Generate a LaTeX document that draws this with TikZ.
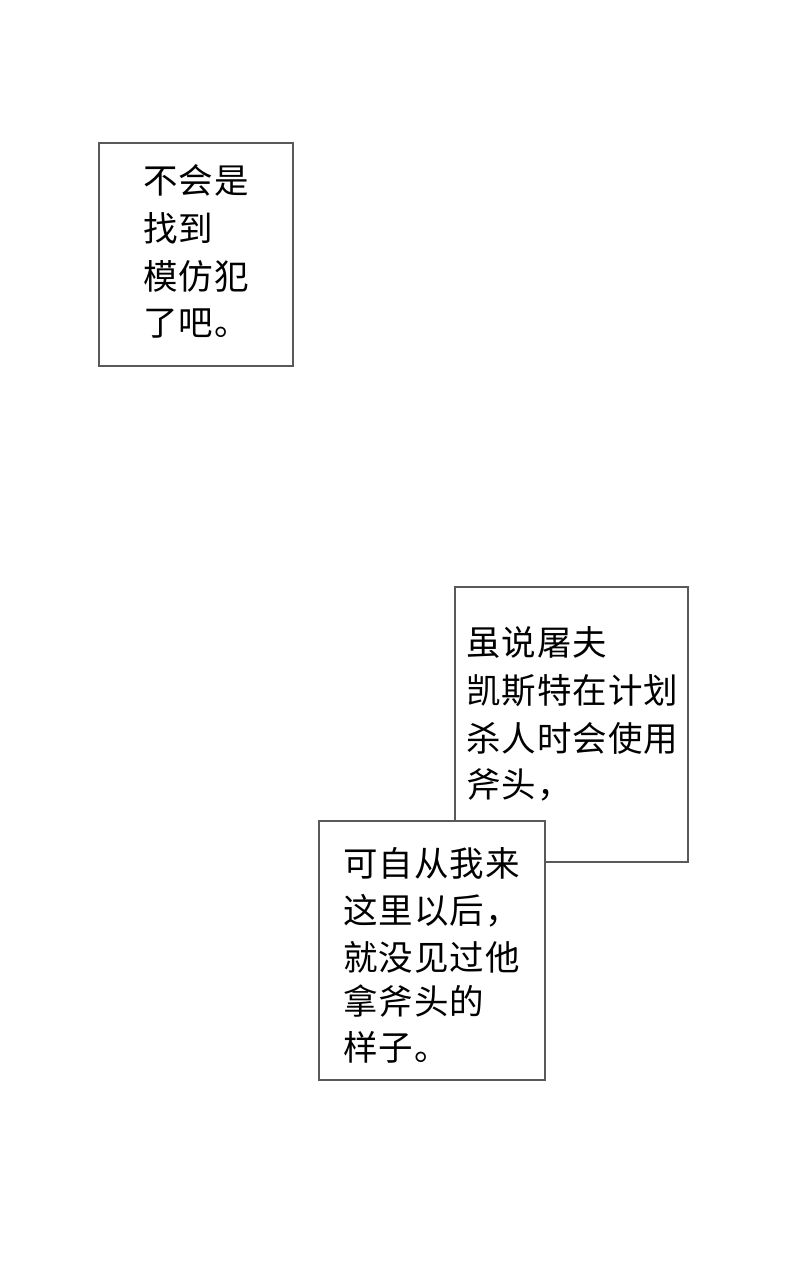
\documentclass[tikz,border=0pt]{standalone}
\usepackage{fontspec}
\newfontfamily\cjk[LetterSpace=3]{Noto Sans CJK SC}
\begin{document}
\begin{tikzpicture}[x=1pt,y=-1pt,
  panel/.style={draw=black!65,line width=1.4pt,fill=white},
  txt/.style={anchor=base west,inner sep=0pt,font=\cjk\fontsize{34.5}{47}\selectfont}]
\useasboundingbox[fill=white] (0,0) rectangle (800,1280);
% box 1
\draw[panel] (99,143) rectangle (293,366);
\node[txt] (a1) at (143,193) {不会是};
\node[txt] (a2) at (143,241) {找到};
\node[txt] (a3) at (143,289) {模仿犯};
\node[txt] (a4) at (143,335) {了吧。};
% box 2
\draw[panel] (455,587) rectangle (688,862);
\node[txt] (b1) at (466,655) {虽说屠夫};
\node[txt] (b2) at (466,703) {凯斯特在计划};
\node[txt] (b3) at (466,751) {杀人时会使用};
\node[txt] (b4) at (466,797) {斧头，};
% box 3
\draw[panel] (319,821) rectangle (545,1080);
\node[txt] (c1) at (343,876) {可自从我来};
\node[txt] (c2) at (343,923) {这里以后，};
\node[txt] (c3) at (343,970) {就没见过他};
\node[txt] (c4) at (343,1014) {拿斧头的};
\node[txt] (c5) at (343,1060) {样子。};
\end{tikzpicture}
\end{document}
